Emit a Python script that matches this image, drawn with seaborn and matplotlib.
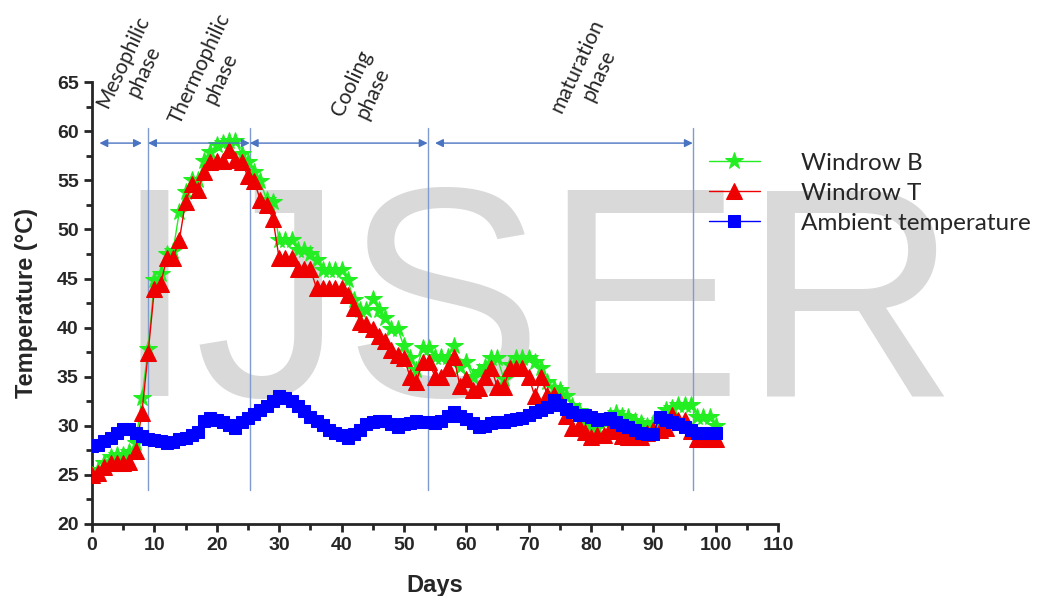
import pandas as pd
import seaborn as sns
import matplotlib.pyplot as plt
import numpy as np

# Temperature readings per day
days = list(range(0, 101))

windrow_b = [
    25.0, 25.5, 26.2, 26.8, 27.0, 27.0, 27.3, 28.2, 32.8, 37.8,
    44.8, 45.5, 47.5, 47.8, 51.8, 53.8, 55.0, 55.0, 57.0, 57.9,
    58.6, 58.8, 59.0, 59.0, 57.7, 56.9, 55.9, 54.9, 53.0, 52.8,
    48.9, 48.9, 48.9, 47.9, 47.9, 47.5, 46.9, 45.9, 45.9, 45.9,
    45.9, 44.8, 42.8, 41.8, 41.8, 42.9, 41.8, 41.0, 39.9, 39.9,
    38.1, 36.9, 35.7, 37.9, 37.9, 37.0, 37.0, 37.0, 38.1, 36.0,
    36.5, 35.0, 35.5, 36.0, 36.9, 36.9, 34.8, 36.2, 36.9, 36.9,
    36.9, 36.5, 35.9, 34.5, 33.8, 33.6, 33.0, 32.0, 31.5, 30.5,
    30.0, 29.8, 30.5, 31.0, 31.3, 31.0, 30.9, 30.5, 30.3, 30.0,
    30.3, 30.6, 31.6, 31.8, 32.1, 32.1, 32.1, 30.9, 30.9, 30.9,
    30.0,
]

windrow_t = [
    25.0, 25.2, 25.8, 26.2, 26.2, 26.2, 26.3, 27.4, 31.3, 37.4,
    43.9, 44.4, 47.1, 47.1, 48.9, 52.8, 54.6, 54.0, 55.9, 56.9,
    57.0, 57.0, 58.1, 57.1, 56.9, 55.4, 54.9, 53.0, 52.5, 51.1,
    47.1, 47.1, 47.1, 46.0, 46.0, 46.0, 44.0, 44.0, 44.0, 44.0,
    44.0, 43.3, 42.0, 40.6, 40.4, 39.9, 39.1, 38.6, 37.7, 37.2,
    36.9, 35.0, 34.5, 36.5, 36.5, 35.0, 35.0, 35.9, 37.0, 34.0,
    34.8, 33.6, 33.8, 35.0, 35.9, 33.9, 33.9, 35.9, 35.9, 35.9,
    35.0, 33.0, 35.0, 33.1, 33.1, 32.5, 31.0, 29.8, 30.0, 29.4,
    28.9, 29.1, 29.1, 29.7, 29.5, 29.0, 28.9, 28.9, 28.9, 29.3,
    29.6, 29.6, 29.8, 31.1, 30.6, 30.6, 29.5, 28.7, 28.7, 28.7,
    28.6,
]

ambient = [
    27.9, 28.0, 28.4, 28.8, 29.3, 29.7, 29.7, 29.3, 29.0, 28.7,
    28.5, 28.4, 28.2, 28.3, 28.6, 28.8, 29.1, 29.4, 30.5, 30.8,
    30.6, 30.4, 30.1, 29.8, 30.4, 30.8, 31.2, 31.6, 32.0, 32.5,
    33.0, 32.8, 32.5, 32.0, 31.5, 30.9, 30.5, 30.1, 29.6, 29.3,
    29.1, 28.8, 29.2, 29.6, 30.2, 30.4, 30.5, 30.5, 30.2, 29.9,
    30.2, 30.3, 30.5, 30.4, 30.4, 30.3, 30.5, 31.0, 31.4, 31.0,
    30.7, 30.3, 29.9, 30.0, 30.3, 30.4, 30.4, 30.6, 30.7, 30.8,
    31.1, 31.4, 31.6, 31.9, 32.6, 32.1, 31.7, 31.4, 31.1, 31.1,
    30.9, 30.6, 30.7, 30.8, 30.4, 30.1, 29.9, 29.6, 29.3, 29.2,
    29.2, 30.9, 30.6, 30.4, 30.2, 29.9, 29.6, 29.3, 29.3, 29.3,
    29.3,
]

series_names = ["Windrow B", "Windrow T", "Ambient temperature"]

# Composting phases: boundaries (days) and labels
phase_bounds = [9, 25.3, 53.8, 96.3]
phase_labels = ["Mesophilic\nphase", "Thermophilic\nphase", "Cooling\nphase", "maturation\nphase"]
phase_arrows = [(1.2, 8.0), (9.0, 25.3), (25.3, 53.8), (55.0, 96.3)]
phase_text_pos = [(6.6, 66.6), (19.0, 65.9), (43.4, 64.4), (79.5, 66.2)]

df = pd.DataFrame({
    "Days": days * 3,
    "Temperature": windrow_b + windrow_t + ambient,
    "Series": np.repeat(series_names, len(days)),
})

sns.set_style("ticks")
plt.rcParams["font.family"] = ["Liberation Sans", "DejaVu Sans"]

fig = plt.figure(figsize=(10.39, 5.96), dpi=100)
ax = fig.add_axes([0.0885, 0.121, 0.6605, 0.741])
ax.set_facecolor("none")

# watermark (behind the data)
ax.text(0.515, 0.3356, "IJSER", transform=fig.transFigure, fontsize=215,
        color="#d9d9d9", ha="center", va="baseline", zorder=0.5, clip_on=False)

palette = {"Windrow B": "#22ee22", "Windrow T": "#ee0000", "Ambient temperature": "#0000ff"}
markers = {"Windrow B": "*", "Windrow T": "^", "Ambient temperature": "s"}
sizes = {"Windrow B": 13, "Windrow T": 11, "Ambient temperature": 9}

for name in series_names:
    sub = df[df["Series"] == name]
    sns.lineplot(data=sub, x="Days", y="Temperature", color=palette[name],
                 marker=markers[name], markersize=sizes[name],
                 markeredgecolor=palette[name], linewidth=1,
                 label=name, ax=ax, zorder=3)

# phase boundaries, arrows and labels
line_col = "#7f9bd0"
arrow_col = "#4a74c2"
for xb in phase_bounds:
    ax.plot([xb, xb], [23.5, 60.3], color=line_col, lw=1, zorder=2)
for (x0, x1) in phase_arrows:
    ax.annotate("", xy=(x1, 58.8), xytext=(x0, 58.8),
                arrowprops=dict(arrowstyle="<|-|>", color=arrow_col, lw=1,
                                mutation_scale=12, shrinkA=0, shrinkB=0))
for (tx, ty), lab in zip(phase_text_pos, phase_labels):
    ax.text(tx, ty, lab, rotation=65, ha="center", va="center",
            rotation_mode="anchor", multialignment="center",
            fontsize=15, family=["Lato", "DejaVu Sans"], clip_on=False)

ax.set_xlim(0, 110)
ax.set_ylim(20, 65)
ax.set_xticks(range(0, 111, 10))
ax.set_yticks(range(20, 66, 5))
ax.set_xticks(range(5, 110, 10), minor=True)
ax.set_yticks(np.arange(22.5, 65, 5), minor=True)
ax.tick_params(which="major", length=6, width=2, direction="out")
ax.tick_params(which="minor", length=4, width=2, direction="out")
for lab in ax.get_xticklabels() + ax.get_yticklabels():
    lab.set_fontweight("bold")
    lab.set_fontsize(14)
sns.despine(ax=ax)
for s in ["left", "bottom"]:
    ax.spines[s].set_linewidth(2)

ax.set_xlabel("Days", fontsize=17, fontweight="bold", labelpad=14)
ax.set_ylabel("Temperature (°C)", fontsize=17, fontweight="bold", labelpad=14)

leg = ax.legend(loc="upper left", bbox_to_anchor=(0.867, 0.89), frameon=False,
                handlelength=2.1, handletextpad=1.7, labelspacing=0.37,
                prop={"family": ["Lato", "DejaVu Sans"], "size": 17.5})
leg.set_zorder(5)

fig.savefig("out.png", dpi=100)
